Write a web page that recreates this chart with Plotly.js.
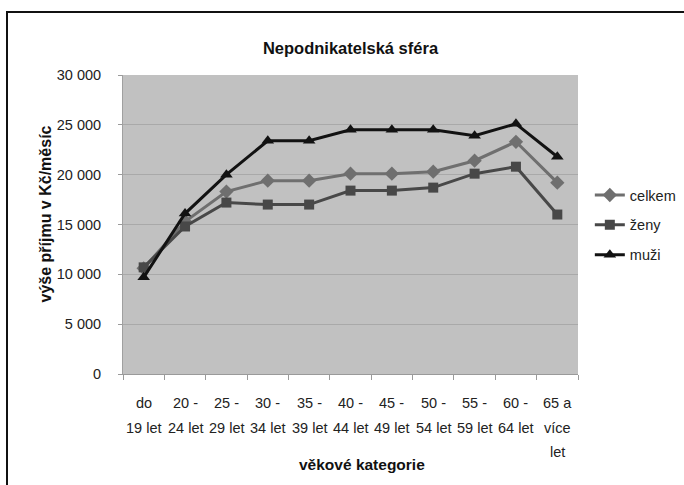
<!DOCTYPE html>
<html>
<head>
<meta charset="utf-8">
<script src="https://cdn.plot.ly/plotly-3.0.1.min.js"></script>
<style>
  html, body { margin: 0; padding: 0; background: #ffffff; }
  #wrap { position: relative; width: 684px; height: 485px; overflow: hidden; }
  #chart { width: 684px; height: 485px; }
  #frame { position: absolute; left: 6px; top: 11px; width: 700px; height: 500px;
           border-left: 2px solid #111; border-top: 2px solid #111; pointer-events: none; }
</style>
</head>
<body>
<div id="wrap">
  <div id="chart"></div>
  <div id="frame"></div>
</div>
<script>
// ---- data ----
var categories = ["do<br>19 let", "20 -<br>24 let", "25 -<br>29 let", "30 -<br>34 let", "35 -<br>39 let",
                  "40 -<br>44 let", "45 -<br>49 let", "50 -<br>54 let", "55 -<br>59 let", "60 -<br>64 let",
                  "65 a<br>více<br>let"];
var celkem = [10600, 15300, 18300, 19400, 19400, 20100, 20100, 20300, 21400, 23300, 19200];
var zeny   = [10700, 14800, 17200, 17000, 17000, 18400, 18400, 18700, 20100, 20800, 16000];
var muzi   = [9700, 16100, 20000, 23400, 23400, 24500, 24500, 24500, 23900, 25100, 21800];
var seriesNames = ["celkem", "ženy", "muži"];
var yTicks = [0, 5000, 10000, 15000, 20000, 25000, 30000];

var FONT = "Liberation Sans, Arial, Helvetica, sans-serif";
var xIdx = categories.map(function (c, i) { return i; });

var styles = [
  {color: "#6f6f6f", symbol: "diamond", size: 11},
  {color: "#484848", symbol: "square", size: 10},
  {color: "#121212", symbol: "triangle-up", size: 11}
];
var values = [celkem, zeny, muzi];

var traces = values.map(function (v, k) {
  return {
    type: "scatter", mode: "lines+markers",
    x: xIdx, y: v, name: seriesNames[k], legendgroup: "g" + k,
    line: {color: styles[k].color, width: 3},
    marker: {color: styles[k].color, symbol: styles[k].symbol, size: styles[k].size,
             line: {width: 0}}
  };
});

// category labels, one annotation per text line
var annotations = [];
categories.forEach(function (c, i) {
  c.split("<br>").forEach(function (line, j) {
    annotations.push({
      x: i, y: 0, xref: "x", yref: "y", text: line, showarrow: false,
      xanchor: "center", yanchor: "middle", yshift: -29 - 24.5 * j,
      font: {family: FONT, size: 14.5, color: "#222"}
    });
  });
});
// axis titles
annotations.push({
  x: 0.5, y: 0, xref: "paper", yref: "paper", text: "<b>věkové kategorie</b>",
  showarrow: false, xanchor: "center", yanchor: "middle", xshift: 11, yshift: -90,
  font: {family: FONT, size: 15.5, color: "#111"}
});
annotations.push({
  x: 0, y: 0.5, xref: "paper", yref: "paper", text: "<b>výše příjmu v Kč/měsíc</b>",
  showarrow: false, xanchor: "center", yanchor: "middle", xshift: -78, yshift: 10,
  textangle: -90, font: {family: FONT, size: 16, color: "#111"}
});

var layout = {
  width: 684, height: 485,
  margin: {l: 123, r: 106, t: 75, b: 111, pad: 0, autoexpand: false},
  paper_bgcolor: "#ffffff",
  plot_bgcolor: "#c1c1c1",
  separators: ", ",
  showlegend: true,
  title: {
    text: "<b>Nepodnikatelská sféra</b>",
    x: 0.5, xref: "paper", xanchor: "center",
    y: 1 - 48 / 485, yref: "container", yanchor: "middle",
    font: {family: FONT, size: 16.5, color: "#111"}
  },
  xaxis: {
    type: "linear", range: [-0.5, categories.length - 0.5],
    tickvals: xIdx.map(function (i) { return i - 0.5; }).concat([categories.length - 0.5]),
    showticklabels: false, ticks: "outside", ticklen: 5, tickcolor: "#9a9a9a", tickwidth: 1,
    showgrid: false, zeroline: false, showline: true, linecolor: "#9a9a9a", linewidth: 1,
    fixedrange: true, automargin: false
  },
  yaxis: {
    range: [0, 30000], tickvals: yTicks, tickformat: ",d",
    ticks: "outside", ticklen: 4, tickcolor: "#9a9a9a",
    showgrid: true, gridcolor: "#a9a9a9", gridwidth: 1,
    zeroline: false, showline: true, linecolor: "#a0a0a0",
    tickfont: {family: FONT, size: 14.5, color: "#222"},
    ticklabelstandoff: 14, fixedrange: true, automargin: false
  },
  legend: {
    x: 1.026, xanchor: "left", y: 0.652, yanchor: "top",
    font: {family: FONT, size: 14.5, color: "#222"},
    bgcolor: "rgba(0,0,0,0)", borderwidth: 0,
    traceorder: "grouped", tracegroupgap: 8
  },
  annotations: annotations
};

Plotly.newPlot("chart", traces, layout, {displayModeBar: false, staticPlot: true});
</script>
</body>
</html>
